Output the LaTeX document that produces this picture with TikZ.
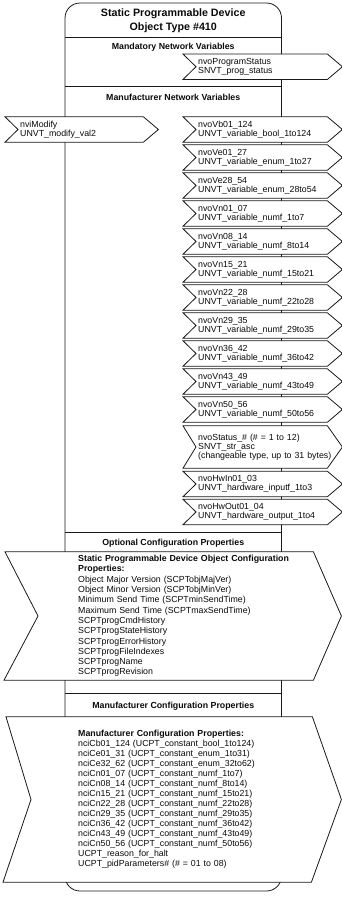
\documentclass[tikz,border=0pt]{standalone}
\usepackage{fontspec}
\setmainfont{Liberation Sans}
\usetikzlibrary{positioning}
\definecolor{spdline}{RGB}{25,25,25}
\definecolor{spdtext}{RGB}{10,10,10}
\pgfdeclarelayer{bg}
\pgfdeclarelayer{mid}
\pgfsetlayers{bg,mid,main}

\begin{document}
\begin{tikzpicture}[x=1pt,y=-1pt,
  ttl/.style={align=center,inner sep=0pt,text=spdtext,font=\fontsize{10.7}{14}\selectfont\bfseries},
  hdr/.style={inner sep=0pt,text=spdtext,font=\fontsize{8.8}{10}\selectfont\bfseries},
  nv/.style={anchor=west,minimum height=25pt,text width=127pt,inner xsep=2pt,inner ysep=0pt,
    align=left,text=spdtext,font=\fontsize{8.8}{9.2}\selectfont},
  cfg/.style={anchor=west,text width=233pt,inner sep=0pt,align=left,text=spdtext,
    font=\fontsize{8.8}{10.3}\selectfont},
  boxline/.style={draw=spdline,line width=0.8pt},
  outline/.style={draw=spdline,line width=0.8pt,fill=white,line join=miter}
]
\useasboundingbox (0,0) rectangle (342,905);

% titles and section headers
\node[ttl] (title) at (173.25,21) {Static Programmable Device\\Object Type \#410};
\node[hdr] (mandhdr) at (173.25,47.5) {Mandatory Network Variables};
\node[hdr] (mfrhdr) at (173.25,97) {Manufacturer Network Variables};
\node[hdr] (opthdr) at (173.25,543) {Optional Configuration Properties};
\node[hdr] (mcfghdr) at (173.25,706.5) {Manufacturer Configuration Properties};

% network variables
\node[nv] (pst) at (196,66.75) {nvoProgramStatus\\SNVT\_prog\_status};
\node[nv,text width=121pt] (nvi) at (18,129.5) {nviModify\\UNVT\_modify\_val2};
\node[nv] (vb) at (196,129.5) {nvoVb01\_124\\UNVT\_variable\_bool\_1to124};
\node[nv] (ve1) at (196,157.5) {nvoVe01\_27\\UNVT\_variable\_enum\_1to27};
\node[nv] (ve2) at (196,185.5) {nvoVe28\_54\\UNVT\_variable\_enum\_28to54};
\node[nv] (vn1) at (196,213.5) {nvoVn01\_07\\UNVT\_variable\_numf\_1to7};
\node[nv] (vn2) at (196,241.5) {nvoVn08\_14\\UNVT\_variable\_numf\_8to14};
\node[nv] (vn3) at (196,269.5) {nvoVn15\_21\\UNVT\_variable\_numf\_15to21};
\node[nv] (vn4) at (196,297.5) {nvoVn22\_28\\UNVT\_variable\_numf\_22to28};
\node[nv] (vn5) at (196,325.5) {nvoVn29\_35\\UNVT\_variable\_numf\_29to35};
\node[nv] (vn6) at (196,353.5) {nvoVn36\_42\\UNVT\_variable\_numf\_36to42};
\node[nv] (vn7) at (196,381.5) {nvoVn43\_49\\UNVT\_variable\_numf\_43to49};
\node[nv] (vn8) at (196,409.5) {nvoVn50\_56\\UNVT\_variable\_numf\_50to56};
\node[nv,minimum height=42pt] (stat) at (196,447) {nvoStatus\_\# (\# = 1 to 12)\\SNVT\_str\_asc\\
  \makebox[127pt][l]{(changeable type, up to 31 bytes)}};
\node[nv] (hwin) at (196,484) {nvoHwIn01\_03\\UNVT\_hardware\_inputf\_1to3};
\node[nv] (hwout) at (196,512) {nvoHwOut01\_04\\UNVT\_hardware\_output\_1to4};

% configuration properties
\node[cfg,minimum height=128pt] (spdcfg) at (78,616) {\textbf{Static Programmable Device Object Configuration}\\
  \textbf{Properties:}\\
  Object Major Version (SCPTobjMajVer)\\
  Object Minor Version (SCPTobjMinVer)\\
  Minimum Send Time (SCPTminSendTime)\\
  Maximum Send Time (SCPTmaxSendTime)\\
  SCPTprogCmdHistory\\
  SCPTprogStateHistory\\
  SCPTprogErrorHistory\\
  SCPTprogFileIndexes\\
  SCPTprogName\\
  SCPTprogRevision};
\node[cfg,minimum height=165pt,font=\fontsize{8.8}{10}\selectfont] (mfrcfg) at (78,799.5) {\textbf{Manufacturer Configuration Properties:}\\
  nciCb01\_124 (UCPT\_constant\_bool\_1to124)\\
  nciCe01\_31 (UCPT\_constant\_enum\_1to31)\\
  nciCe32\_62 (UCPT\_constant\_enum\_32to62)\\
  nciCn01\_07 (UCPT\_constant\_numf\_1to7)\\
  nciCn08\_14 (UCPT\_constant\_numf\_8to14)\\
  nciCn15\_21 (UCPT\_constant\_numf\_15to21)\\
  nciCn22\_28 (UCPT\_constant\_numf\_22to28)\\
  nciCn29\_35 (UCPT\_constant\_numf\_29to35)\\
  nciCn36\_42 (UCPT\_constant\_numf\_36to42)\\
  nciCn43\_49 (UCPT\_constant\_numf\_43to49)\\
  nciCn50\_56 (UCPT\_constant\_numf\_50to56)\\
  UCPT\_reason\_for\_halt\\
  UCPT\_pidParameters\# (\# = 01 to 08)};

% chevron outlines under the texts
\begin{pgfonlayer}{mid}
\foreach \n in {pst,nvi,vb,ve1,ve2,vn1,vn2,vn3,vn4,vn5,vn6,vn7,vn8,stat,hwin,hwout}
  \draw[outline] ([xshift=-13]\n.north west) -- (\n.north east) -- ([xshift=15]\n.east)
    -- (\n.south east) -- ([xshift=-13]\n.south west) -- (\n.west) -- cycle;
\draw[outline] ([xshift=-73]spdcfg.north west) -- ([xshift=2]spdcfg.north east)
  -- ([xshift=30]spdcfg.east) -- ([xshift=2]spdcfg.south east)
  -- ([xshift=-74]spdcfg.south west) -- ([xshift=-40]spdcfg.west) -- cycle;
\draw[outline] ([xshift=-72]mfrcfg.north west) -- ([xshift=1]mfrcfg.north east)
  -- ([xshift=30]mfrcfg.east) -- (mfrcfg.south east)
  -- ([xshift=-75]mfrcfg.south west) -- ([xshift=-47]mfrcfg.west) -- cycle;
\end{pgfonlayer}

% object box
\begin{pgfonlayer}{bg}
\draw[boxline,rounded corners=15pt] (65,3) rectangle (281.5,891);
\draw[boxline] (65,37) -- (281.5,37);
\draw[boxline] (65,86.5) -- (281.5,86.5);
\draw[boxline] (65,532.5) -- (281.5,532.5);
\draw[boxline] (65,693) -- (281.5,693);
\end{pgfonlayer}
\end{tikzpicture}
\end{document}
